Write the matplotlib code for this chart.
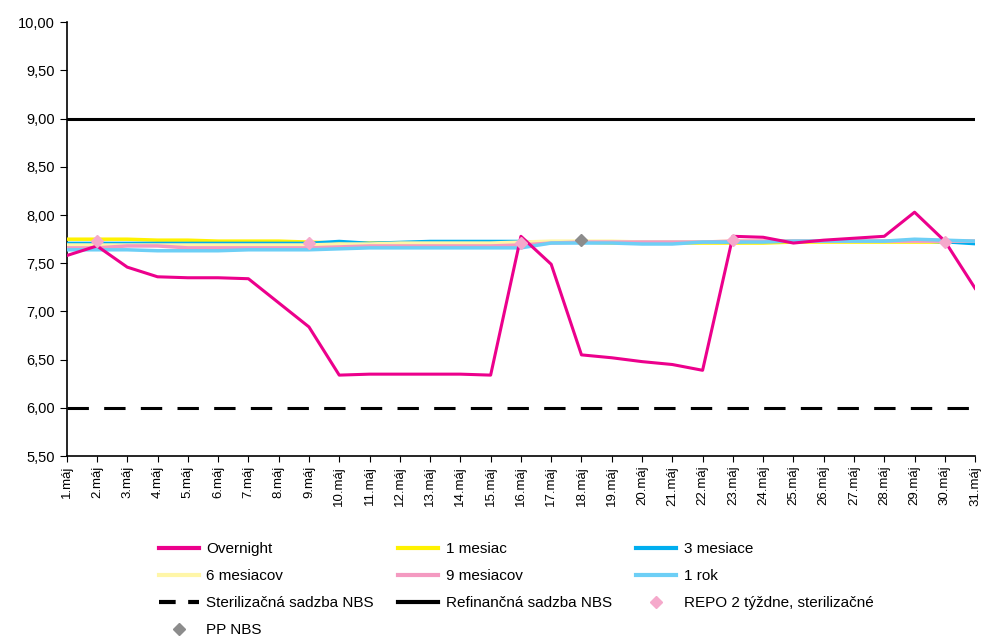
import matplotlib.pyplot as plt
from matplotlib.ticker import FixedLocator, FuncFormatter
from matplotlib.lines import Line2D

plt.rcParams['font.family'] = ['Liberation Sans', 'DejaVu Sans']

# data
days = list(range(1, 32))
day_labels = [f"{d}.máj" for d in days]

overnight = [7.58, 7.68, 7.46, 7.36, 7.35, 7.35, 7.34, 7.09, 6.84, 6.34,
             6.35, 6.35, 6.35, 6.35, 6.34, 7.78, 7.49, 6.55, 6.52, 6.48,
             6.45, 6.39, 7.78, 7.77, 7.71, 7.74, 7.76, 7.78, 8.03, 7.73, 7.24]
m1 = [7.75, 7.75, 7.75, 7.74, 7.74, 7.73, 7.73, 7.73, 7.72, 7.71,
      7.71, 7.71, 7.71, 7.71, 7.71, 7.72, 7.72, 7.72, 7.71, 7.71,
      7.71, 7.71, 7.71, 7.71, 7.72, 7.72, 7.72, 7.72, 7.72, 7.72, 7.72]
m3 = [7.71, 7.71, 7.71, 7.71, 7.71, 7.71, 7.71, 7.71, 7.71, 7.73,
      7.71, 7.72, 7.73, 7.73, 7.73, 7.73, 7.72, 7.72, 7.72, 7.72,
      7.72, 7.72, 7.72, 7.73, 7.73, 7.73, 7.73, 7.73, 7.73, 7.72, 7.70]
m6 = [7.69, 7.69, 7.69, 7.69, 7.69, 7.69, 7.69, 7.69, 7.69, 7.70,
      7.70, 7.71, 7.71, 7.71, 7.71, 7.72, 7.73, 7.73, 7.73, 7.72,
      7.72, 7.72, 7.73, 7.73, 7.73, 7.73, 7.73, 7.73, 7.73, 7.73, 7.73]
m9 = [7.66, 7.66, 7.68, 7.68, 7.66, 7.66, 7.66, 7.66, 7.66, 7.67,
      7.68, 7.68, 7.68, 7.68, 7.68, 7.69, 7.71, 7.72, 7.72, 7.72,
      7.72, 7.72, 7.73, 7.73, 7.73, 7.73, 7.73, 7.73, 7.73, 7.73, 7.73]
y1 = [7.64, 7.64, 7.64, 7.63, 7.63, 7.63, 7.64, 7.64, 7.64, 7.65,
      7.66, 7.66, 7.66, 7.66, 7.66, 7.66, 7.71, 7.71, 7.71, 7.70,
      7.70, 7.72, 7.72, 7.72, 7.73, 7.73, 7.73, 7.73, 7.75, 7.74, 7.73]
steril = [6.00] * 31
refin = [9.00] * 31
repo_days = [2, 9, 16, 23, 30]
repo_vals = [7.73, 7.71, 7.71, 7.74, 7.72]
pp_days = [18]
pp_vals = [7.74]

fig = plt.figure(figsize=(9.81, 6.37), dpi=100)
ax = fig.add_axes([0.068, 0.284, 0.926, 0.681])

ax.plot(days, steril, color='black', lw=2.2, dashes=(7, 5), zorder=2)
ax.plot(days, refin, color='black', lw=2.2, zorder=2)
ax.plot(days, m1, color='#FFF200', lw=2.5, zorder=3)
ax.plot(days, m3, color='#00AEEF', lw=2.0, zorder=3)
ax.plot(days, m6, color='#FFF6A8', lw=2.5, zorder=3)
ax.plot(days, m9, color='#F49AC1', lw=2.5, zorder=3)
ax.plot(days, y1, color='#6DCFF6', lw=2.5, zorder=3)
ax.plot(days, overnight, color='#EC008C', lw=2.2, zorder=4)
ax.plot(repo_days, repo_vals, ls='none', marker='D', ms=6, color='#F5A9CB', zorder=5)
ax.plot(pp_days, pp_vals, ls='none', marker='D', ms=6, color='#8C8C8C', zorder=5)

ax.set_xlim(1, 31)
ax.set_ylim(5.5, 10.0)
ax.xaxis.set_major_locator(FixedLocator(days))
ax.set_xticklabels(day_labels, rotation=90, fontsize=9.5)
ax.set_yticks([5.5 + 0.5 * i for i in range(10)])
ax.yaxis.set_major_formatter(FuncFormatter(lambda v, p: f"{v:.2f}".replace('.', ',')))
ax.tick_params(axis='y', labelsize=10.5, direction='out', length=5)
ax.tick_params(axis='x', direction='out', length=4, pad=3)
for s in ['top', 'right']:
    ax.spines[s].set_visible(False)
for s in ['left', 'bottom']:
    ax.spines[s].set_linewidth(1.2)

# legend: column-first order
h = {
    'Overnight': Line2D([], [], color='#EC008C', lw=3),
    '1 mesiac': Line2D([], [], color='#FFF200', lw=3),
    '3 mesiace': Line2D([], [], color='#00AEEF', lw=3),
    '6 mesiacov': Line2D([], [], color='#FFF6A8', lw=3),
    '9 mesiacov': Line2D([], [], color='#F49AC1', lw=3),
    '1 rok': Line2D([], [], color='#6DCFF6', lw=3),
    'Sterilizačná sadzba NBS': Line2D([], [], color='black', lw=3, dashes=(4, 3)),
    'Refinančná sadzba NBS': Line2D([], [], color='black', lw=3),
    'REPO 2 týždne, sterilizačné': Line2D([], [], ls='none', marker='D', ms=6, color='#F5A9CB'),
    'PP NBS': Line2D([], [], ls='none', marker='D', ms=6, color='#8C8C8C'),
}
order = ['Overnight', '6 mesiacov', 'Sterilizačná sadzba NBS', 'PP NBS',
         '1 mesiac', '9 mesiacov', 'Refinančná sadzba NBS',
         '3 mesiace', '1 rok', 'REPO 2 týždne, sterilizačné']
fig.legend([h[k] for k in order], order, loc='upper left',
           bbox_to_anchor=(0.148, 0.170), ncol=3, frameon=False, fontsize=11,
           handlelength=2.6, handletextpad=0.5, labelspacing=0.85, columnspacing=1.6)

fig.savefig('out.png', dpi=100)
